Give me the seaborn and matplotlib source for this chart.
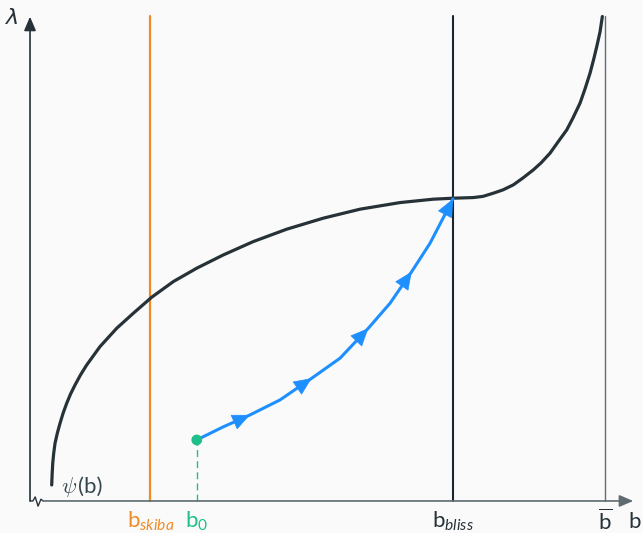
import numpy as np
import pandas as pd
import seaborn as sns
import matplotlib
import matplotlib.pyplot as plt

matplotlib.use("Agg")

# Curve psi(b) (b, lambda units)
psi_b = [0.377, 0.385, 0.395, 0.412, 0.435, 0.475, 0.522, 0.575, 0.638, 0.705, 0.783, 0.880,
         0.986, 1.217, 1.508, 1.797, 2.117, 2.492, 2.899, 3.362, 3.883, 4.464, 5.101, 5.739,
         6.435, 7.014, 7.362, 7.710, 7.878, 8.057, 8.226, 8.405, 8.574, 8.753, 8.887, 9.043,
         9.183, 9.334, 9.443, 9.565, 9.652, 9.739, 9.800, 9.856, 9.913, 9.953]
psi_lam = [0.278, 0.470, 0.656, 0.830, 1.003, 1.180, 1.351, 1.525, 1.699, 1.860, 2.017, 2.195,
           2.365, 2.684, 3.003, 3.264, 3.543, 3.814, 4.047, 4.278, 4.510, 4.725, 4.917, 5.073,
           5.188, 5.247, 5.264, 5.275, 5.296, 5.351, 5.409, 5.496, 5.617, 5.757, 5.878, 6.047,
           6.243, 6.452, 6.661, 6.917, 7.165, 7.438, 7.670, 7.901, 8.157, 8.423]

# Trajectory from b0 to b_bliss
traj_b = [2.899, 3.357, 3.826, 4.348, 4.899, 5.391, 5.883, 6.261, 6.638, 6.957, 7.357]
traj_lam = [1.061, 1.287, 1.496, 1.757, 2.134, 2.482, 3.003, 3.438, 3.988, 4.482, 5.252]
arrow_idx = [2, 4, 6, 8, 10]

# Special b values
b_skiba = 2.09
b_0 = 2.90
b_bliss = 7.36
b_bar = 10.0
lam_top = 8.43

DARK = "#263238"
ORANGE = "#f08a24"
GREEN = "#1fbf8c"
BLUE = "#1e8fff"
GRAY = "#5f6b70"
BG = "#fafafa"

sns.set_theme(style="white")
plt.rcParams["font.family"] = ["Lato", "DejaVu Sans"]
plt.rcParams["mathtext.fontset"] = "custom"
plt.rcParams["mathtext.rm"] = "Lato"
plt.rcParams["mathtext.it"] = "Lato:italic"
plt.rcParams["mathtext.bf"] = "Lato:bold"
plt.rcParams["mathtext.fallback"] = "cm"

fig = plt.figure(figsize=(6.43, 5.33), dpi=100, facecolor=BG)
ax = fig.add_axes([0, 0, 1, 1], facecolor=BG)
ax.set_xlim(-0.522, 10.66)
ax.set_ylim(-0.557, 8.71)
ax.set_axis_off()

# axes with arrows
ax.annotate("", xy=(0, 8.42), xytext=(0, 0),
            arrowprops=dict(arrowstyle="-|>,head_length=0.7,head_width=0.3", color=DARK, lw=1.2,
                            shrinkA=0, shrinkB=0))
zz_b = [0.0, 0.05, 0.09, 0.14, 0.19, 0.23]
zz_l = [0.0, 0.0, 0.07, -0.09, 0.03, 0.0]
ax.plot(zz_b, zz_l, color=DARK, lw=1.0)
ax.annotate("", xy=(10.49, 0), xytext=(0.23, 0),
            arrowprops=dict(arrowstyle="-|>,head_length=0.7,head_width=0.3", color=GRAY, lw=1.2,
                            shrinkA=0, shrinkB=0))

# vertical lines
ax.plot([b_skiba, b_skiba], [0, lam_top], color=ORANGE, lw=1.6)
ax.plot([b_bliss, b_bliss], [0, lam_top], color="#1a262b", lw=1.5)
ax.plot([b_bar, b_bar], [0, lam_top], color=GRAY, lw=1.0)

# psi curve
curve = pd.DataFrame({"b": psi_b, "lam": psi_lam})
sns.lineplot(data=curve, x="b", y="lam", sort=False, estimator=None, color=DARK, lw=2.3, ax=ax)

# trajectory
traj = pd.DataFrame({"b": traj_b, "lam": traj_lam})
ax.plot([b_0, b_0], [0, traj_lam[0]], color=GREEN, lw=1.0, ls=(0, (5, 3)))
sns.lineplot(data=traj, x="b", y="lam", sort=False, estimator=None, color=BLUE, lw=2.2, ax=ax)
for i in arrow_idx:
    x1, y1 = traj_b[i], traj_lam[i]
    x0, y0 = traj_b[i - 1], traj_lam[i - 1]
    d = np.array([x1 - x0, y1 - y0])
    d = d / np.hypot(*d) * 0.05
    ax.annotate("", xy=(x1, y1), xytext=(x1 - d[0], y1 - d[1]),
                arrowprops=dict(arrowstyle="-|>,head_length=0.85,head_width=0.38", color=BLUE,
                                lw=0.5, shrinkA=0, shrinkB=0, mutation_scale=14), zorder=5)
ax.scatter([b_0], [traj_lam[0]], s=60, color=GREEN, zorder=6, edgecolor="none")

# labels
fs = 16
ax.text(-0.30, 8.40, "λ", color=DARK, fontsize=fs, ha="center", va="center",
        family=["DejaVu Sans"], style="oblique")
ax.text(10.52, -0.36, "b", color=DARK, fontsize=fs, ha="center", va="center")
ax.text(0.82, 0.24, r"$\psi$", color="#37474f", fontsize=fs, ha="right", va="center",
        math_fontfamily="cm")
ax.text(0.83, 0.24, "(b)", color="#37474f", fontsize=fs, ha="left", va="center")
ax.text(b_skiba, -0.36, r"$\mathrm{b}_{skiba}$", color=ORANGE, fontsize=fs, ha="center", va="center")
ax.text(b_0, -0.36, r"$\mathrm{b}_{0}$", color=GREEN, fontsize=fs, ha="center", va="center")
ax.text(b_bliss, -0.36, r"$\mathrm{b}_{bliss}$", color=DARK, fontsize=fs, ha="center", va="center")
ax.text(b_bar, -0.36, r"$\overline{\mathrm{b}}$", color=DARK, fontsize=fs, ha="center", va="center")

fig.savefig("out.png", dpi=100, facecolor=BG)
